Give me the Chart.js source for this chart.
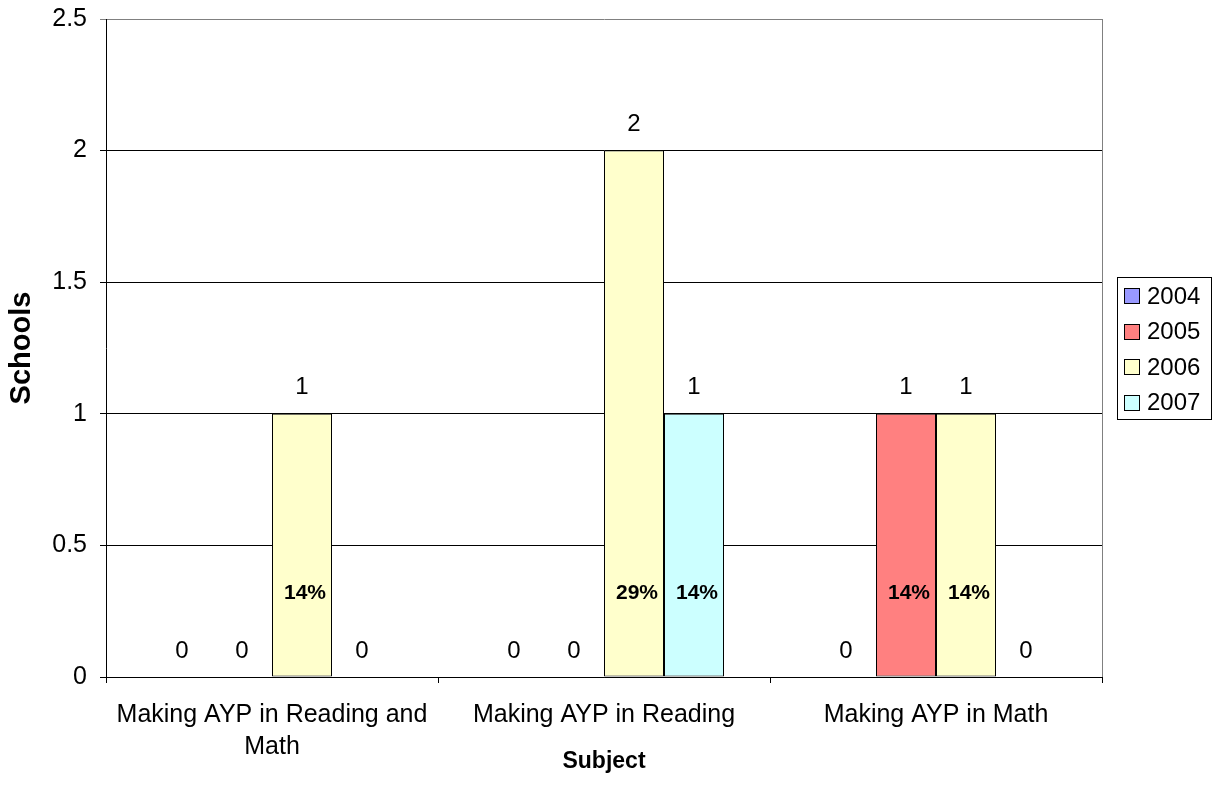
<!DOCTYPE html>
<html>
<head>
<meta charset="utf-8">
<script src="https://cdn.jsdelivr.net/npm/chart.js@4/dist/chart.umd.min.js"></script>
<style>
  html, body { margin: 0; padding: 0; background: #fff; }
  #wrap { width: 1214px; height: 804px; }
</style>
</head>
<body>
<div id="wrap"><canvas id="c" width="1214" height="804"></canvas></div>
<script>
// Schools making AYP, by subject and year
const categories = [
  ['Making AYP in Reading and', 'Math'],
  'Making AYP in Reading',
  'Making AYP in Math'
];
const years = ['2004', '2005', '2006', '2007'];
const schools2004 = [0, 0, 0];
const schools2005 = [0, 0, 1];
const schools2006 = [1, 2, 1];
const schools2007 = [0, 1, 0];
// share of all schools, printed inside the bars
const share2004 = [null, null, null];
const share2005 = [null, null, '14%'];
const share2006 = ['14%', '29%', '14%'];
const share2007 = [null, '14%', null];
const yTicks = [0, 0.5, 1, 1.5, 2, 2.5];

const FONT = '"Liberation Sans", Arial, Helvetica, sans-serif';
const colors = ['#9999FF', '#FF8080', '#FFFFCC', '#CCFFFF'];
const seriesValues = [schools2004, schools2005, schools2006, schools2007];
const seriesShares = [share2004, share2005, share2006, share2007];

const datasets = years.map((y, i) => ({
  label: y,
  data: seriesValues[i],
  backgroundColor: colors[i],
  borderColor: '#000',
  borderWidth: 1,
  borderSkipped: false,
  share: seriesShares[i]
}));

// plot frame, value labels, share labels and the boxed legend
const decorations = {
  id: 'decorations',
  beforeDatasetsDraw(chart) {
    const { ctx, chartArea: a } = chart;
    ctx.save();
    ctx.strokeStyle = '#808080';
    ctx.lineWidth = 1;
    ctx.beginPath();
    ctx.moveTo(Math.round(a.right) + 0.5, a.top);
    ctx.lineTo(Math.round(a.right) + 0.5, a.bottom);
    ctx.stroke();
    ctx.restore();
  },
  afterDatasetsDraw(chart) {
    const { ctx } = chart;
    const yScale = chart.scales.y;
    const base = yScale.getPixelForValue(0);
    ctx.save();
    ctx.textAlign = 'center';
    ctx.textBaseline = 'middle';
    chart.data.datasets.forEach((ds, i) => {
      const meta = chart.getDatasetMeta(i);
      meta.data.forEach((bar, j) => {
        const v = ds.data[j];
        ctx.fillStyle = '#000';
        ctx.font = '24px ' + FONT;
        ctx.fillText(String(v), bar.x, yScale.getPixelForValue(v) - 26);
        const s = ds.share[j];
        if (s) {
          ctx.font = 'bold 21px ' + FONT;
          ctx.fillText(s, bar.x + 3, base - 84);
        }
      });
    });
    ctx.restore();

    // legend
    const lx = 1117.5, ly = 277.5, lw = 94, lh = 142;
    ctx.save();
    ctx.fillStyle = '#fff';
    ctx.fillRect(lx, ly, lw, lh);
    ctx.strokeStyle = '#000';
    ctx.lineWidth = 1;
    ctx.strokeRect(lx, ly, lw, lh);
    ctx.font = '24px ' + FONT;
    ctx.textAlign = 'left';
    ctx.textBaseline = 'middle';
    chart.data.datasets.forEach((ds, i) => {
      const cy = 296 + i * 35.5;
      ctx.fillStyle = ds.backgroundColor;
      ctx.fillRect(1124.5, Math.round(cy - 8) + 0.5, 15, 15);
      ctx.strokeStyle = '#000';
      ctx.strokeRect(1124.5, Math.round(cy - 8) + 0.5, 15, 15);
      ctx.fillStyle = '#000';
      ctx.fillText(ds.label, 1147, cy + 1);
    });
    ctx.restore();
  }
};

new Chart(document.getElementById('c'), {
  type: 'bar',
  data: { labels: categories, datasets },
  options: {
    responsive: false,
    animation: false,
    devicePixelRatio: 1,
    layout: { padding: { left: 0, top: 19, right: 112, bottom: 0 } },
    plugins: {
      legend: { display: false },
      tooltip: { enabled: false }
    },
    datasets: {
      bar: { categoryPercentage: 240 / 332, barPercentage: 1 }
    },
    scales: {
      x: {
        grid: {
          offset: true,
          drawOnChartArea: false,
          drawTicks: true,
          tickLength: 6,
          color: '#000'
        },
        border: { color: '#000', width: 1 },
        ticks: {
          color: '#000',
          font: { family: FONT, size: 25, lineHeight: 1.28 },
          padding: 16,
          maxRotation: 0,
          autoSkip: false
        },
        title: {
          display: true,
          text: 'Subject',
          color: '#000',
          font: { family: FONT, size: 23, weight: 'bold' },
          padding: { top: 0, bottom: 29 }
        },
        afterFit(scale) {
          scale.height = 127;
          scale.paddingLeft = 0;
          scale.paddingRight = 0;
        }
      },
      y: {
        min: 0,
        max: 2.5,
        afterBuildTicks(scale) { scale.ticks = yTicks.map(v => ({ value: v })); },
        grid: {
          color: ctx => (ctx.tick && ctx.tick.value === 2.5 ? '#808080' : '#000'),
          tickLength: 6,
          drawTicks: true
        },
        border: { color: '#000', width: 1 },
        ticks: {
          color: '#000',
          font: { family: FONT, size: 25 },
          padding: 13,
          callback: v => String(v)
        },
        title: {
          display: true,
          text: 'Schools',
          color: '#000',
          font: { family: FONT, size: 29, weight: 'bold' },
          padding: { top: 5, bottom: 0 }
        },
        afterFit(scale) {
          scale.width = 106;
          scale.paddingTop = 0;
          scale.paddingBottom = 0;
        }
      }
    }
  },
  plugins: [decorations]
});
</script>
</body>
</html>
